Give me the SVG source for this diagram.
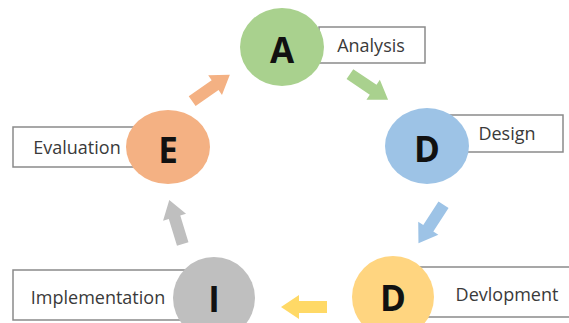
<svg xmlns="http://www.w3.org/2000/svg" xmlns:xlink="http://www.w3.org/1999/xlink" width="569" height="323" viewBox="0 0 569 323">
<style>
.box{fill:#fff;stroke:#8a8a8a;stroke-width:1.5}
.lbl{font-family:"Open Sans","Noto Sans",sans-serif;font-size:18px;fill:#3a3a3a;text-anchor:middle;dominant-baseline:central}
.let{font-family:"Open Sans","Noto Sans",sans-serif;font-size:35px;font-weight:bold;fill:#111;text-anchor:middle;dominant-baseline:central}
</style>
<defs>
<path id="arr" d="M-23,-6 H5 V-12 L23,0 L5,12 V6 H-23 Z"/>
</defs>
<rect width="569" height="323" fill="#fff"/>
<g id="connectors">
<use xlink:href="#arr" fill="#A9D18E" transform="translate(369,87) rotate(34)"/>
<use xlink:href="#arr" fill="#9DC3E6" transform="translate(431,224) rotate(123)"/>
<use xlink:href="#arr" fill="#FFD966" transform="translate(304,307) rotate(180)"/>
<use xlink:href="#arr" fill="#BFBFBF" transform="translate(176,222) rotate(-107)"/>
<use xlink:href="#arr" fill="#F4B183" transform="translate(211,88) rotate(-35)"/>
</g>
<g id="node-analysis">
<rect class="box" x="319" y="27" width="106" height="36"/>
<ellipse cx="282" cy="47" rx="42" ry="39" fill="#A9D18E"/>
<text class="let" x="282" y="49">A</text>
<text class="lbl" x="371" y="45">Analysis</text>
</g>
<g id="node-design">
<rect class="box" x="450" y="115" width="113" height="37"/>
<ellipse cx="427" cy="146" rx="42" ry="38" fill="#9DC3E6"/>
<text class="let" x="427" y="148">D</text>
<text class="lbl" x="507" y="133">Design</text>
</g>
<g id="node-development">
<rect class="box" x="420" y="267" width="150" height="50"/>
<ellipse cx="393" cy="297" rx="41" ry="41" fill="#FFD580"/>
<text class="let" x="393" y="297">D</text>
<text class="lbl" x="507" y="294">Devlopment</text>
</g>
<g id="node-implementation">
<rect class="box" x="13" y="270" width="180" height="50"/>
<ellipse cx="214" cy="298" rx="41" ry="41" fill="#BFBFBF"/>
<text class="let" x="214" y="298">I</text>
<text class="lbl" x="98" y="297">Implementation</text>
</g>
<g id="node-evaluation">
<rect class="box" x="13" y="127" width="125" height="40"/>
<ellipse cx="168" cy="147" rx="42" ry="37" fill="#F4B183"/>
<text class="let" x="168" y="149">E</text>
<text class="lbl" x="77" y="147">Evaluation</text>
</g>
</svg>
